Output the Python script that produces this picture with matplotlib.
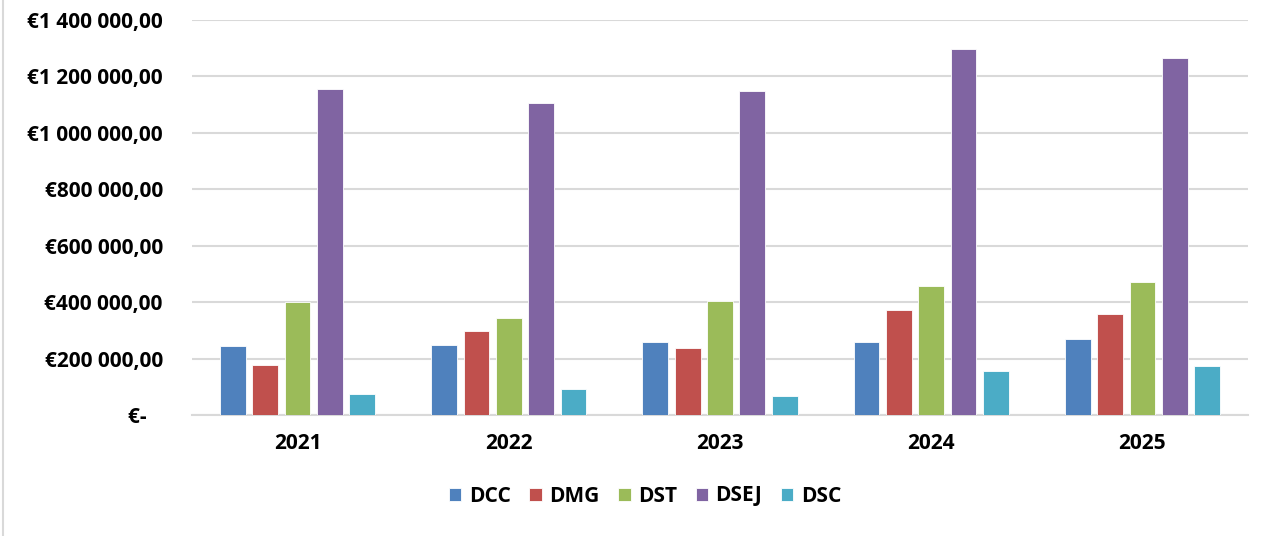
import numpy as np
import matplotlib.pyplot as plt
from matplotlib.lines import Line2D
from matplotlib.ticker import FuncFormatter

years = ['2021', '2022', '2023', '2024', '2025']
series = ['DCC', 'DMG', 'DST', 'DSEJ', 'DSC']
colors = ['#4F81BD', '#C0504D', '#9BBB59', '#8064A2', '#4BACC6']

dcc = [244000, 248000, 258000, 260000, 269000]
dmg = [178000, 299000, 238000, 373000, 359000]
dst = [402000, 344000, 403000, 457000, 471000]
dsej = [1156000, 1106000, 1148000, 1296000, 1266000]
dsc = [75000, 93000, 67000, 155000, 173000]
values = [dcc, dmg, dst, dsej, dsc]

plt.rcParams['font.family'] = ['Open Sans', 'DejaVu Sans']
plt.rcParams['font.weight'] = 'bold'

fig = plt.figure(figsize=(12.72, 5.36), dpi=100)
ax = fig.add_axes([192 / 1272, 1 - 415 / 536, (1248 - 192) / 1272, (415 - 20) / 536])

x = np.arange(len(years))
step = 0.153
width = 0.122
for i, (name, vals, col) in enumerate(zip(series, values, colors)):
    ax.bar(x + (i - 2) * step, vals, width, color=col, label=name,
           edgecolor='white', linewidth=0.6, zorder=3)


def euro(v, pos):
    if v == 0:
        return '€-   '
    s = f'{int(v):,}'.replace(',', ' ')
    return '€' + s + ',00'


ax.set_ylim(0, 1400000)
ax.set_xlim(-0.5, 4.5)
ax.set_yticks(np.arange(0, 1400001, 200000))
ax.yaxis.set_major_formatter(FuncFormatter(euro))
ax.set_xticks(x)
ax.set_xticklabels(years)
ax.tick_params(axis='y', length=0, pad=21, labelsize=15)
ax.tick_params(axis='x', length=0, pad=13, labelsize=15)
for lab in ax.get_yticklabels() + ax.get_xticklabels():
    lab.set_fontweight('bold')

ax.grid(axis='y', color='#D9D9D9', linewidth=1.5, zorder=0)
for side in ['top', 'right', 'left']:
    ax.spines[side].set_visible(False)
ax.spines['bottom'].set_color('#D9D9D9')
ax.spines['bottom'].set_linewidth(1.5)

leg = fig.legend(loc='center', bbox_to_anchor=(645 / 1272, 1 - 496 / 536), ncol=5,
                 frameon=False, handlelength=0.6, handleheight=0.6,
                 handletextpad=0.35, columnspacing=0.9,
                 prop={'weight': 'bold', 'size': 15})

fig.add_artist(Line2D([3 / 1272, 3 / 1272], [0, 1], color='#D9D9D9', linewidth=1.5))

fig.savefig('out.png', dpi=100)
